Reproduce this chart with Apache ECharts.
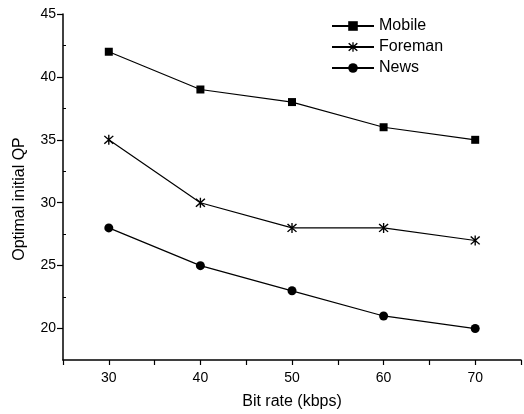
<!DOCTYPE html>
<html>
<head>
<meta charset="utf-8">
<script src="https://cdn.jsdelivr.net/npm/echarts@6/dist/echarts.min.js"></script>
<style>
  html, body { margin: 0; padding: 0; background: #fff; }
  #main { width: 524px; height: 414px; }
</style>
</head>
<body>
<div id="main"></div>
<script>
const bitRates = [30, 40, 50, 60, 70];
const mobile = [42, 39, 38, 36, 35];
const foreman = [35, 30, 28, 28, 27];
const news = [28, 25, 23, 21, 20];
const yMajorTicks = [20, 25, 30, 35, 40, 45];
const yMinorTicks = [22.5, 27.5, 32.5, 37.5, 42.5];

const FONT = '"Liberation Sans", Arial, sans-serif';
// asterisk marker: vertical bar plus two diagonals
const ASTERISK = 'path://M4.4,0 L5.6,0 L5.6,10 L4.4,10 Z M0.6,1.5 L1.5,0.6 L9.4,8.5 L8.5,9.4 Z M8.5,0.6 L9.4,1.5 L1.5,9.4 L0.6,8.5 Z';

const pairs = arr => bitRates.map((x, i) => [x, arr[i]]);

const chart = echarts.init(document.getElementById('main'));

const lineSeries = (name, values, symbol, size) => ({
  name: name,
  type: 'line',
  data: pairs(values),
  symbol: symbol,
  symbolSize: size,
  yAxisIndex: 0,
  itemStyle: { color: '#000' },
  lineStyle: { color: '#000', width: 1.2 },
  animation: false
});

chart.setOption({
  backgroundColor: '#fff',
  textStyle: { fontFamily: FONT },
  grid: { left: 63, top: 14, right: 3, bottom: 54, outerBoundsMode: 'none', containLabel: false },
  legend: {
    orient: 'vertical',
    left: 326,
    top: 13,
    itemWidth: 42,
    itemHeight: 12,
    itemGap: 5,
    textStyle: { fontFamily: FONT, fontSize: 16, color: '#000' },
    data: ['Mobile', 'Foreman', 'News']
  },
  xAxis: {
    type: 'value',
    min: 25,
    max: 75,
    interval: 5,
    name: 'Bit rate (kbps)',
    nameLocation: 'middle',
    nameGap: 34,
    nameTextStyle: { fontFamily: FONT, fontSize: 16, color: '#000' },
    axisLine: { lineStyle: { color: '#000', width: 1.5 } },
    axisTick: { length: 5, lineStyle: { color: '#000', width: 1.2 } },
    axisLabel: {
      fontFamily: FONT, fontSize: 14, color: '#000', margin: 11,
      formatter: v => (v % 10 === 0 ? String(v) : '')
    },
    splitLine: { show: false }
  },
  yAxis: [
    {
      type: 'value',
      min: 17.5,
      max: 45,
      interval: 2.5,
      name: 'Optimal initial QP',
      nameLocation: 'middle',
      nameGap: 35,
      nameTextStyle: { fontFamily: FONT, fontSize: 16, color: '#000', padding: [0, 24, 0, 0] },
      axisLine: { show: true, lineStyle: { color: '#000', width: 1.5 } },
      axisTick: { show: true, length: 6, customValues: yMajorTicks, lineStyle: { color: '#000', width: 1.2 } },
      axisLabel: { fontFamily: FONT, fontSize: 14, color: '#000', margin: 7, customValues: yMajorTicks },
      splitLine: { show: false }
    },
    {
      type: 'value',
      position: 'left',
      min: 17.5,
      max: 45,
      interval: 2.5,
      axisLine: { show: false },
      axisTick: { show: true, inside: true, length: 3, customValues: yMinorTicks, lineStyle: { color: '#000', width: 1 } },
      axisLabel: { show: false },
      splitLine: { show: false }
    }
  ],
  series: [
    lineSeries('Mobile', mobile, 'rect', 8),
    lineSeries('Foreman', foreman, ASTERISK, 10),
    lineSeries('News', news, 'circle', 9)
  ]
});
</script>
</body>
</html>
